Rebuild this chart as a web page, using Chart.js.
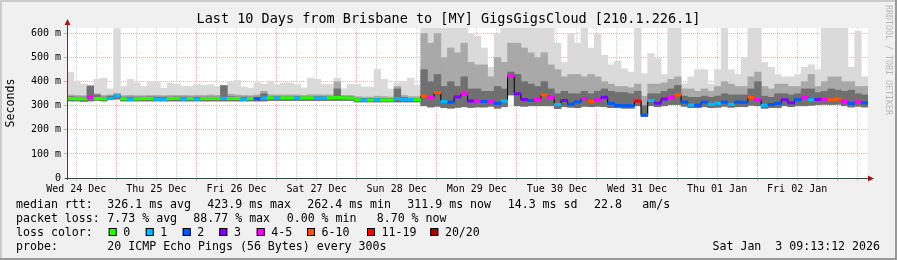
<!DOCTYPE html>
<html>
<head>
<meta charset="utf-8">
<script src="https://cdn.jsdelivr.net/npm/chart.js@4.4.1/dist/chart.umd.min.js"></script>
<style>
html, body { margin: 0; padding: 0; background: #f0f0f0; }
canvas { display: block; }
</style>
</head>
<body>
<canvas id="smoke" width="897" height="260"></canvas>
<script>
// time axis in hours since Wed 24 Dec 00:00, 2 hour slots
var startHour = 9.22;
var endHour = 249.22;
var dayLabels = ['Wed 24 Dec', 'Thu 25 Dec', 'Fri 26 Dec', 'Sat 27 Dec', 'Sun 28 Dec',
                 'Mon 29 Dec', 'Tue 30 Dec', 'Wed 31 Dec', 'Thu 01 Jan', 'Fri 02 Jan'];
var yTicks = [0, 100, 200, 300, 400, 500, 600];
var yTickLabels = ['0', '100 m', '200 m', '300 m', '400 m', '500 m', '600 m'];

// smoke (ms): max, upper mid band, upper dark band, min
var smokeHi = [440, 400, 390, 385, 410, 415, 370, 620, 380, 410,
    395, 380, 400, 400, 373, 395, 390, 380, 380, 390,
    385, 388, 380, 385, 400, 405, 378, 373, 395, 390,
    400, 388, 395, 395, 388, 374, 415, 410, 388, 388,
    415, 371, 390, 390, 378, 378, 451, 410, 370, 395,
    400, 415, 385, 623, 623, 623, 623, 623, 623, 623,
    600, 590, 540, 460, 600, 623, 623, 623, 623, 623,
    623, 623, 623, 560, 480, 600, 560, 623, 540, 600,
    510, 470, 485, 454, 440, 623, 433, 517, 496, 430,
    623, 623, 392, 420, 450, 450, 390, 450, 623, 450,
    430, 500, 623, 623, 480, 460, 430, 420, 420, 430,
    460, 470, 450, 623, 623, 623, 623, 460, 610, 420];
var smokeMid = [345, 343, 342, 385, 350, 343, 345, 352, 342, 343,
    342, 342, 343, 343, 342, 343, 343, 343, 342, 343,
    343, 345, 343, 385, 348, 345, 343, 342, 345, 360,
    346, 345, 345, 345, 345, 343, 346, 346, 345, 345,
    400, 343, 343, 338, 336, 336, 340, 338, 336, 380,
    343, 338, 338, 600, 560, 600, 500, 540, 520, 560,
    480, 470, 470, 420, 500, 480, 560, 560, 540, 520,
    500, 520, 470, 450, 420, 430, 430, 420, 430, 420,
    400, 390, 380, 380, 375, 390, 340, 390, 390, 395,
    410, 420, 370, 370, 360, 370, 360, 380, 400, 390,
    380, 380, 420, 440, 380, 370, 390, 390, 380, 380,
    400, 430, 380, 400, 420, 420, 400, 400, 380, 380];
var smokeDark = [338, 336, 336, 380, 345, 336, 340, 345, 336, 336,
    336, 336, 337, 336, 336, 336, 337, 336, 336, 336,
    336, 336, 336, 383, 338, 336, 336, 336, 336, 350,
    338, 338, 338, 338, 338, 338, 338, 338, 338, 338,
    370, 338, 338, 330, 330, 330, 330, 330, 330, 370,
    335, 330, 330, 450, 400, 430, 380, 400, 380, 420,
    370, 370, 360, 360, 380, 370, 440, 430, 400, 390,
    380, 400, 370, 350, 360, 350, 350, 360, 350, 360,
    370, 360, 355, 355, 350, 360, 300, 350, 350, 360,
    370, 385, 340, 335, 335, 340, 335, 340, 350, 345,
    345, 345, 370, 400, 340, 335, 350, 350, 345, 350,
    370, 370, 355, 360, 370, 365, 360, 365, 350, 345];
var smokeLo = [320, 320, 318, 320, 322, 320, 325, 328, 320, 320,
    320, 320, 320, 320, 320, 320, 320, 320, 320, 320,
    320, 320, 320, 320, 320, 320, 320, 320, 320, 320,
    322, 322, 322, 322, 322, 322, 322, 322, 322, 322,
    322, 322, 322, 316, 316, 316, 316, 316, 316, 316,
    316, 316, 316, 300, 295, 298, 292, 290, 293, 296,
    293, 295, 295, 298, 290, 296, 345, 300, 298, 300,
    300, 300, 300, 288, 296, 294, 292, 298, 296, 298,
    296, 292, 292, 290, 290, 300, 255, 300, 296, 300,
    305, 305, 298, 292, 292, 296, 292, 294, 298, 294,
    296, 296, 302, 300, 290, 292, 292, 300, 296, 300,
    300, 302, 305, 306, 305, 306, 300, 295, 298, 295];
var medianRtt = [330, 329, 329, 336, 330, 329, 331, 341, 329, 327,
    329, 330, 330, 327, 327, 330, 331, 328, 330, 328,
    330, 330, 330, 331, 330, 330, 327, 330, 329, 332,
    333, 332, 333, 333, 332, 333, 333, 332, 332, 333,
    334, 333, 332, 325, 324, 324, 325, 324, 324, 330,
    327, 326, 325, 341, 335, 355, 318, 315, 337, 350,
    320, 320, 318, 319, 310, 320, 424, 350, 326, 322,
    326, 345, 335, 305, 322, 307, 316, 330, 318, 325,
    335, 310, 301, 300, 300, 320, 262, 322, 311, 328,
    335, 345, 315, 303, 302, 315, 306, 310, 315, 306,
    315, 314, 335, 325, 302, 305, 310, 325, 312, 325,
    335, 325, 326, 328, 325, 328, 318, 310, 316, 312];
// index into lossNames per slot
var lossLevel = [0, 0, 0, 4, 0, 0, 1, 1, 0, 1,
    0, 0, 0, 1, 1, 0, 0, 1, 0, 1,
    0, 0, 0, 1, 0, 0, 1, 0, 2, 1,
    0, 1, 0, 0, 1, 0, 0, 1, 1, 0,
    0, 0, 0, 0, 1, 0, 1, 0, 0, 1,
    1, 1, 0, 5, 4, 5, 1, 2, 3, 4,
    3, 4, 2, 4, 2, 1, 4, 3, 3, 2,
    4, 5, 4, 1, 3, 2, 2, 4, 5, 4,
    3, 2, 2, 2, 2, 6, 2, 1, 3, 3,
    4, 5, 2, 1, 2, 2, 1, 1, 2, 1,
    2, 2, 5, 4, 1, 2, 2, 3, 3, 2,
    4, 1, 3, 4, 5, 5, 4, 2, 4, 2];
var lossNames = ['0', '1', '2', '3', '4-5', '6-10', '11-19', '20/20'];
var lossColors = ['#26ff00', '#00b8ff', '#0059ff', '#7e00ff', '#ff00ff', '#ff5500', '#ff0000', '#a10000'];

var rttStats = ['326.1 ms avg', '423.9 ms max', '262.4 ms min', '311.9 ms now', '14.3 ms sd', '22.8', 'am/s'];
var lossStats = ['7.73 % avg', '88.77 % max', '0.00 % min', '8.70 % now'];
var probeText = '20 ICMP Echo Pings (56 Bytes) every 300s';
var stampText = 'Sat Jan  3 09:13:12 2026';
var titleText = 'Last 10 Days from Brisbane to [MY] GigsGigsCloud [210.1.226.1]';

var MONO = '"DejaVu Sans Mono", monospace';

function band(top) {
    var out = [];
    for (var i = 0; i < top.length; i++) {
        out.push({ x: startHour + 1 + 2 * i, y: [smokeLo[i], top[i]] });
    }
    return out;
}

var medBars = [], medLine = [], medColors = [];
for (var i = 0; i < medianRtt.length; i++) {
    var h = startHour + 1 + 2 * i;
    medBars.push({ x: h, y: [medianRtt[i] - 5, medianRtt[i] + 5] });
    medLine.push({ x: h, y: medianRtt[i] });
    medColors.push(lossColors[lossLevel[i]]);
}

var gridGray = 'rgba(140,140,140,0.4)';
var gridRed = 'rgba(220,60,60,0.4)';

var framePlugin = {
    id: 'frame',
    beforeDraw: function (chart) {
        var c = chart.ctx, a = chart.chartArea;
        c.save();
        c.fillStyle = '#f0f0f0';
        c.fillRect(0, 0, chart.width, chart.height);
        c.fillStyle = '#cbcbcb';
        c.fillRect(0, 0, chart.width, 2);
        c.fillRect(0, 0, 2, chart.height);
        c.fillStyle = '#999999';
        c.fillRect(0, chart.height - 2, chart.width, 2);
        c.fillRect(chart.width - 2, 0, 2, chart.height);
        c.fillStyle = '#ffffff';
        c.fillRect(a.left, a.top, a.right - a.left, a.bottom - a.top);
        c.restore();
    },
    afterDraw: function (chart) {
        var c = chart.ctx, a = chart.chartArea;
        c.save();
        // axes with arrows
        c.strokeStyle = '#2c4d43';
        c.lineWidth = 1;
        c.beginPath();
        c.moveTo(a.left + 0.5, a.bottom + 2);
        c.lineTo(a.left + 0.5, a.top - 6);
        c.moveTo(a.left - 2, a.bottom + 0.5);
        c.lineTo(a.right + 3, a.bottom + 0.5);
        c.stroke();
        c.fillStyle = '#9a1a1a';
        c.beginPath();
        c.moveTo(a.left + 0.5, a.top - 9);
        c.lineTo(a.left - 2.5, a.top - 3);
        c.lineTo(a.left + 3.5, a.top - 3);
        c.fill();
        c.beginPath();
        c.moveTo(a.right + 6, a.bottom + 0.5);
        c.lineTo(a.right, a.bottom - 2.5);
        c.lineTo(a.right, a.bottom + 3.5);
        c.fill();

        // title
        c.fillStyle = '#000';
        c.font = '13.5px ' + MONO;
        c.textAlign = 'center';
        c.textBaseline = 'alphabetic';
        c.fillText(titleText, 448.5, 23);

        // vertical labels
        c.font = '11.6px ' + MONO;
        c.textBaseline = 'middle';
        c.save();
        c.translate(10.5, 103);
        c.rotate(-Math.PI / 2);
        c.fillText('Seconds', 0, 0);
        c.restore();
        c.save();
        c.fillStyle = '#b8b8b8';
        c.font = '8.3px ' + MONO;
        c.translate(888, 5);
        c.rotate(Math.PI / 2);
        c.textAlign = 'left';
        c.fillText('RRDTOOL / TOBI OETIKER', 0, 0);
        c.restore();

        // legend lines
        c.textAlign = 'left';
        c.fillStyle = '#000';
        c.font = '11.6px ' + MONO;
        var rttX = [107.3, 207.3, 307.3, 407.3, 507.7, 594, 642.3];
        c.fillText('median rtt:', 16, 204.5);
        for (var k = 0; k < rttStats.length; k++) c.fillText(rttStats[k], rttX[k], 204.5);
        var lossX = [107.3, 193.3, 286.7, 376.7];
        c.fillText('packet loss:', 16, 218.5);
        for (k = 0; k < lossStats.length; k++) c.fillText(lossStats[k], lossX[k], 218.5);
        c.fillText('loss color:', 16, 232.5);
        var boxX = [108.7, 145.7, 182.7, 219.3, 256.7, 307, 367, 430.3];
        for (k = 0; k < lossNames.length; k++) {
            c.fillStyle = lossColors[k];
            c.fillRect(boxX[k], 228, 8, 8);
            c.strokeStyle = '#000';
            c.strokeRect(boxX[k] + 0.5, 228.5, 7, 7);
            c.fillStyle = '#000';
            c.fillText(lossNames[k], boxX[k] + 14.6, 232.5);
        }
        c.fillText('probe:', 16, 246.5);
        c.fillText(probeText, 107.3, 246.5);
        c.textAlign = 'right';
        c.fillText(stampText, 880, 246.5);
        c.restore();
    }
};

var ctx = document.getElementById('smoke').getContext('2d');
var smokeChart = new Chart(ctx, {
    type: 'bar',
    data: {
        datasets: [
            { data: band(smokeHi), backgroundColor: '#dadada', order: 6 },
            { data: band(smokeMid), backgroundColor: '#a9a9a9', order: 5 },
            { data: band(smokeDark), backgroundColor: '#707070', order: 4 },
            {
                type: 'line', data: medLine, borderColor: '#000', borderWidth: 1,
                stepped: 'middle', pointRadius: 0, order: 2
            },
            { data: medBars, backgroundColor: medColors, order: 1 }
        ]
    },
    options: {
        responsive: false,
        animation: false,
        devicePixelRatio: 1,
        layout: { padding: { left: 0, right: 29, top: 28, bottom: 0 } },
        plugins: { legend: { display: false }, tooltip: { enabled: false }, title: { display: false } },
        datasets: {
            bar: { grouped: false, barPercentage: 1, categoryPercentage: 1, borderWidth: 0 }
        },
        scales: {
            x: {
                type: 'linear',
                min: startHour,
                max: endHour,
                offset: false,
                z: 1,
                afterFit: function (s) { s.height = 82; },
                afterBuildTicks: function (s) {
                    var t = [];
                    for (var v = 12; v < endHour; v += 6) t.push({ value: v });
                    s.ticks = t;
                },
                grid: {
                    offset: false,
                    color: function (c) { return c.tick && c.tick.value % 24 === 0 ? gridRed : gridGray; },
                    tickLength: 3
                },
                border: { display: false, dash: [1, 1] },
                ticks: {
                    autoSkip: false, maxRotation: 0, minRotation: 0, padding: 2,
                    color: '#000', font: { family: MONO, size: 10 },
                    callback: function (v) { return v % 24 === 12 ? dayLabels[(v - 12) / 24] : ''; }
                }
            },
            y: {
                min: 0,
                max: 623,
                z: 1,
                afterFit: function (s) { s.width = 67; },
                afterBuildTicks: function (s) {
                    var t = [];
                    for (var v = 0; v <= 600; v += 50) t.push({ value: v });
                    s.ticks = t;
                },
                grid: {
                    color: function (c) { return c.tick && c.tick.value % 100 === 0 ? gridRed : gridGray; },
                    tickLength: 3
                },
                border: { display: false, dash: [1, 1] },
                ticks: {
                    padding: 3, color: '#000', font: { family: MONO, size: 10 },
                    callback: function (v) { var k = yTicks.indexOf(v); return k < 0 ? '' : yTickLabels[k]; }
                }
            }
        }
    },
    plugins: [framePlugin]
});
</script>
</body>
</html>
